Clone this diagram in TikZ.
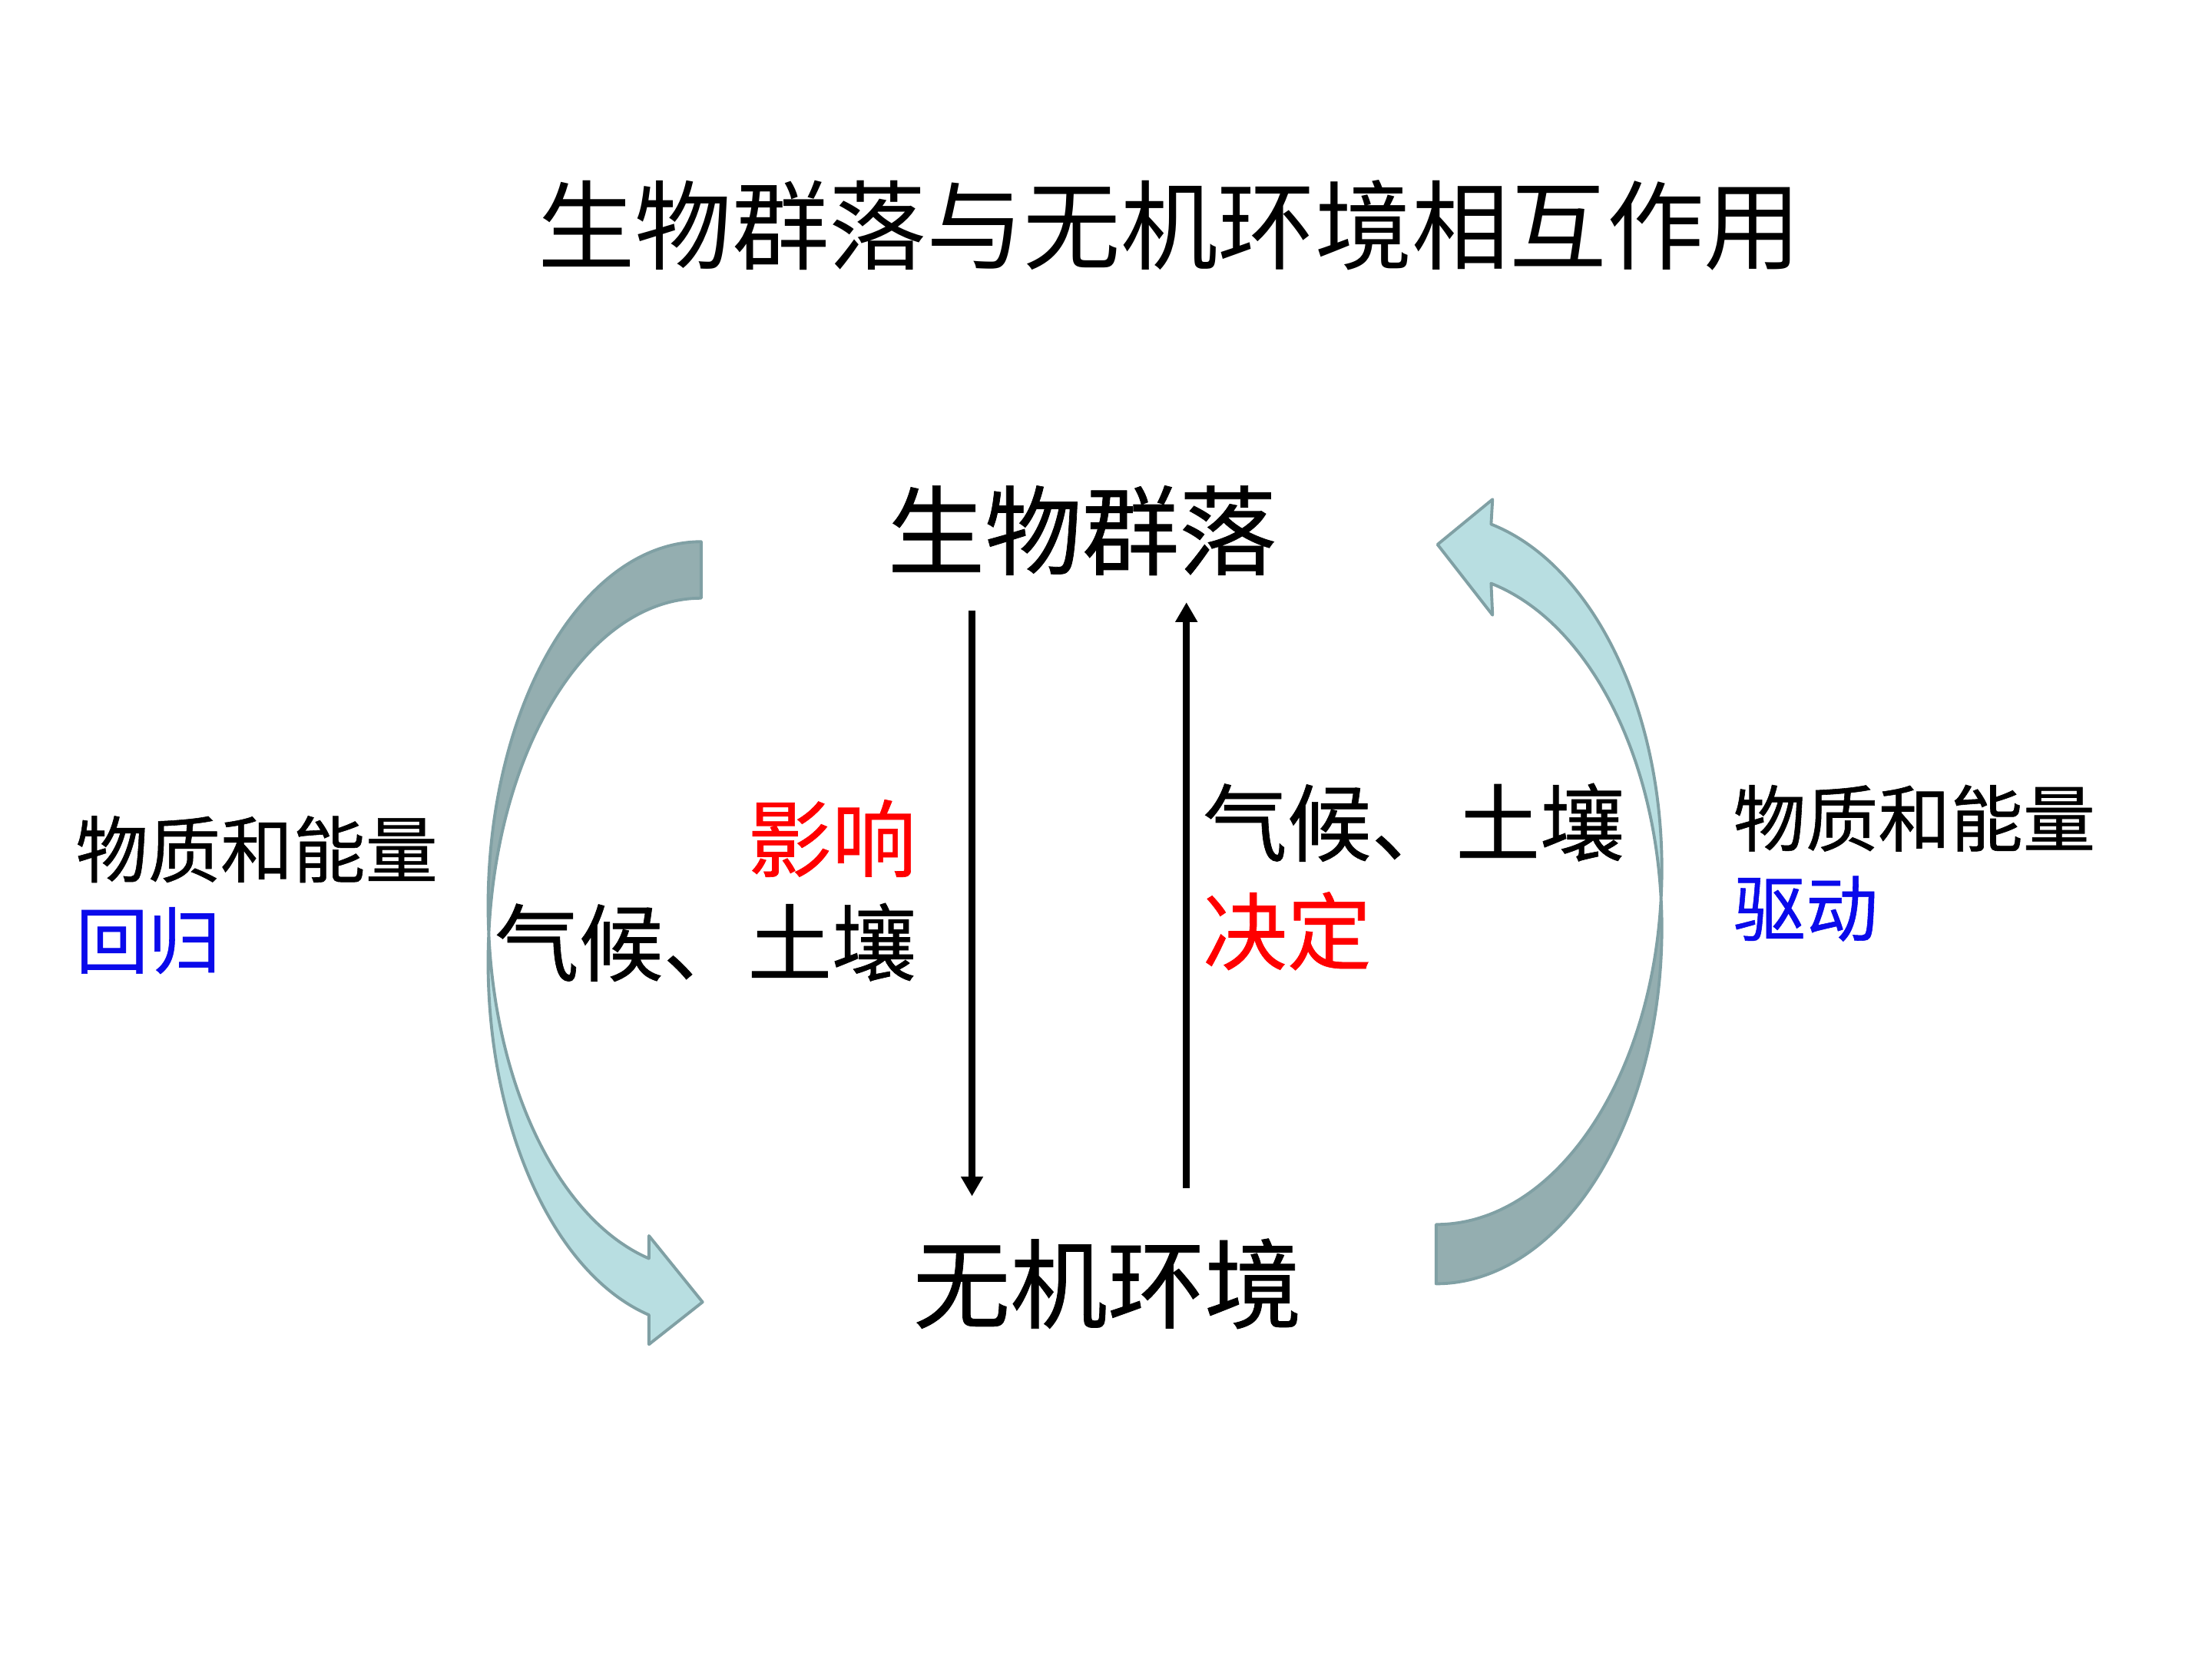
\documentclass[tikz,border=0pt]{standalone}
\usepackage{fontspec}
\newfontfamily\cjk{Noto Sans CJK SC}
\newfontfamily\cjkheavy[FakeBold=0.6]{Noto Sans CJK SC}
\usetikzlibrary{positioning,arrows.meta}

\definecolor{bandback}{RGB}{148,174,176}
\definecolor{bandfront}{RGB}{184,222,225}
\definecolor{bandline}{RGB}{128,160,164}
\definecolor{keyred}{RGB}{255,0,0}
\definecolor{keyblue}{RGB}{10,10,235}

\begin{document}
\begin{tikzpicture}[node distance=2mm and 2mm]
  \tikzset{
    title/.style={font=\cjk\fontsize{19.6}{22}\selectfont,inner sep=0pt},
    eco/.style={font=\cjkheavy\fontsize{19.6}{22}\selectfont,inner sep=0pt},
    factor/.style={font=\cjkheavy\fontsize{17}{20}\selectfont,inner sep=0pt},
    note/.style={font=\cjkheavy\fontsize{14.6}{17}\selectfont,inner sep=0pt},
    band/.style={draw=bandline,line width=0.6pt,line join=round},
    flow/.style={line width=1.4pt,-{Triangle[length=1.4mm,width=1.5mm]}},
  }
  \useasboundingbox (0,0) rectangle (15.68,11.76);

  % left loop: back half on top, arrow half below
  \coordinate (ca) at (4.97,5.34);
  \coordinate (cb) at (4.97,4.94);
  \path[band,fill=bandback] ([shift={(90:1.51 and 2.58)}]ca)
    arc[start angle=90,end angle=184.45,x radius=1.51,y radius=2.58]
    arc[start angle=175.55,end angle=90,x radius=1.51,y radius=2.58] -- cycle;
  \path[band,fill=bandfront] ([shift={(184.45:1.51 and 2.58)}]ca)
    arc[start angle=184.45,end angle=255.8,x radius=1.51,y radius=2.58]
    -- (4.60,3.00) -- (4.98,2.53) -- (4.60,2.23)
    -- ([shift={(255.8:1.51 and 2.58)}]cb)
    arc[start angle=255.8,end angle=175.55,x radius=1.51,y radius=2.58] -- cycle;

  % right loop
  \coordinate (cp) at (10.18,5.18);
  \coordinate (cq) at (10.18,5.60);
  \path[band,fill=bandback] ([shift={(270:1.6 and 2.52)}]cp)
    arc[start angle=270,end angle=364.78,x radius=1.6,y radius=2.52]
    arc[start angle=-4.78,end angle=-90,x radius=1.6,y radius=2.52] -- cycle;
  \path[band,fill=bandfront] ([shift={(4.78:1.6 and 2.52)}]cp)
    arc[start angle=4.78,end angle=75.9,x radius=1.6,y radius=2.52]
    -- (10.58,7.40) -- (10.19,7.90) -- (10.58,8.22)
    -- ([shift={(75.9:1.6 and 2.52)}]cq)
    arc[start angle=75.9,end angle=-4.78,x radius=1.6,y radius=2.52] -- cycle;

  \node[title] (head) at (8.29,10.16) {生物群落与无机环境相互作用};
  \node[eco] (comm) at (7.67,8.00) {生物群落};
  \node[eco] (env)  at (7.85,2.66) {无机环境};

  \node[factor,anchor=west] (climL) at (3.50,5.08) {气候、土壤};
  \node[factor,text=keyred,above=1.7mm of climL.north east,anchor=south east] (affect) {影响};
  \node[factor,anchor=west] (climR) at (8.52,5.93) {气候、土壤};
  \node[factor,text=keyred,below=2mm of climR.south west,anchor=north west] (decide) {决定};

  \node[note,anchor=west] (matL) at (0.53,5.74) {物质和能量};
  \node[note,text=keyblue,below=1.6mm of matL.south west,anchor=north west] (back) {回归};
  \node[note,anchor=west] (matR) at (12.28,5.96) {物质和能量};
  \node[note,text=keyblue,below=1.6mm of matR.south west,anchor=north west] (drive) {驱动};

  \coordinate (downA) at (6.89,7.43);
  \coordinate (downB) at (6.89,3.28);
  \coordinate (upA) at (8.41,3.34);
  \coordinate (upB) at (8.41,7.49);
  \draw[flow] (downA) -- (downB);
  \draw[flow] (upA) -- (upB);
\end{tikzpicture}
\end{document}
